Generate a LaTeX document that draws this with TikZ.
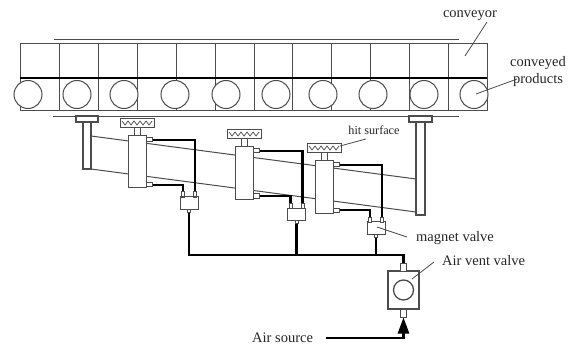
\documentclass[tikz,border=0pt]{standalone}
\usepackage{fontspec}
\setmainfont{Liberation Serif}
\usetikzlibrary{arrows.meta}
\tikzset{
    thin line/.style={draw=black!70,line width=1pt},
    pipe/.style={draw=black,line width=2.6pt},
    part/.style={thin line,fill=white,inner sep=0pt},
    label text/.style={inner sep=0pt,font=\fontsize{14.5}{16}\selectfont,text=black!85},
    leader/.style={draw=black!70,line width=0.8pt}
}
\begin{document}
\begin{tikzpicture}[x=1pt,y=-1pt]
    \useasboundingbox (0,0) rectangle (574,345);
    % conveyor
    \draw[thin line] (54,40) -- (459,40);\draw[thin line] (53,117) -- (459,117);
    \draw[thin line] (20,44) rectangle (487,111);
    \foreach \x in {59,98,137,176,215,254,292,331,370,409,448}
        \draw[thin line] (\x,44) -- (\x,111);
    \foreach \i/\x in {1/28,2/77,3/124,4/175,5/226,6/276,7/323,8/373,9/424,10/474}
        \node[part,circle,minimum size=28pt] (prod\i) at (\x,94.5) {};
    \draw[pipe] (20,78) -- (487,78);
    % posts and beam
    \draw[thin line] (91,136) -- (416,179);\draw[thin line] (91,169) -- (416,212);
    \node[part,minimum width=8pt,minimum height=47pt,line width=1.3pt] (postl) at (87,145.5) {};
    \node[part,minimum width=22pt,minimum height=6pt,line width=1.3pt] (capl) at (87,119) {};
    \node[part,minimum width=9pt,minimum height=93pt,line width=1.3pt] (postr) at (420.5,168.5) {};
    \node[part,minimum width=23pt,minimum height=6pt,line width=1.3pt] (capr) at (420.5,119) {};
    % cylinders
    \foreach \n/\x/\y in {a/137/162,b/244/173,c/324/187} {
        \node[part,minimum width=6pt,minimum height=9pt] (stem\n) at (\x,\y-30) {};
        \node[part,minimum width=34pt,minimum height=9pt] (head\n) at (\x,\y-38.5) {};
        \draw[black!70,line width=0.7pt] (\x-15,\y-41) -- ++(3,4) -- ++(3,-4) -- ++(3,4) -- ++(3,-4) -- ++(3,4) -- ++(3,-4) -- ++(3,4) -- ++(3,-4) -- ++(3,4) -- ++(3,-4);
        \node[part,minimum width=18pt,minimum height=52pt] (cyl\n) at (\x,\y) {};
        \node[part,minimum width=6pt,minimum height=4pt] (port\n t) at (\x+12,\y-22) {};
        \node[part,minimum width=6pt,minimum height=4pt] (port\n b) at (\x+12,\y+23) {};
    }
    % magnet valves
    \foreach \n/\x/\y in {a/189/203,b/296.5/214.5,c/376/228} {
        \node[part,minimum width=18pt,minimum height=12.5pt] (valve\n) at (\x,\y) {};
        \node[part,minimum width=3pt,minimum height=5pt] (valve\n l) at (\x-6,\y-8.5) {};
        \node[part,minimum width=3pt,minimum height=5pt] (valve\n r) at (\x+6,\y-8.5) {};
        \node[part,minimum width=3pt,minimum height=3pt] (valve\n o) at (\x,\y+7.5) {};
    }
    % air vent valve
    \node[part,minimum width=31pt,minimum height=38pt,line width=1.2pt] (vent) at (403.5,290) {};
    \node[part,circle,minimum size=20pt,line width=1.3pt] (ventc) at (vent) {};
    \node[part,minimum width=6pt,minimum height=8pt] (ventt) at (403.5,267) {};
    \node[part,minimum width=6pt,minimum height=8pt] (ventb) at (403.5,313) {};
    % pipes
    \foreach \n in {a,b,c} {
        \draw[pipe] (port\n t.east) -| (valve\n r.north);
        \draw[pipe] (port\n b.east) -| (valve\n l.north);
    }
    \coordinate (mainline) at (189,255);
    \draw[pipe] (valveao.south) |- (ventt.north |- mainline) -- (ventt.north);
    \draw[pipe] (valvebo.south) -- (valvebo.south |- mainline);
    \draw[pipe] (valveco.south) -- (valveco.south |- mainline);
    % labels
    \node[label text] (conveyor) at (470,16) {conveyor};
    \node[label text] (conveyed) at (538,63) {conveyed};
    \node[label text] (products) at (538,80) {products};
    \node[label text,font=\fontsize{12.2}{14}\selectfont] (hit) at (374,130) {hit surface};
    \node[label text,anchor=west] (magnet) at (416,238) {magnet valve};
    \node[label text,anchor=west] (airvent) at (442,261) {Air vent valve};
    \node[label text,anchor=west] (airsource) at (252,338) {Air source};
    \draw[pipe,-{Triangle[length=16pt,width=11pt]}] ([xshift=13pt]airsource.east) -| (ventb.south);
    % leaders
    \coordinate (c1) at (465,56);\coordinate (c2) at (476,94);
    \coordinate (c3) at (340,146);\coordinate (c4) at (377,227);\coordinate (c5) at (412,279);
    \draw[leader] (487,22) -- (c1);
    \draw[leader] (517,79) -- (c2);
    \draw[leader] (366,139) -- (c3);
    \draw[leader] (407,237) -- (c4);
    \draw[leader] (434,262) -- (c5);
\end{tikzpicture}
\end{document}
